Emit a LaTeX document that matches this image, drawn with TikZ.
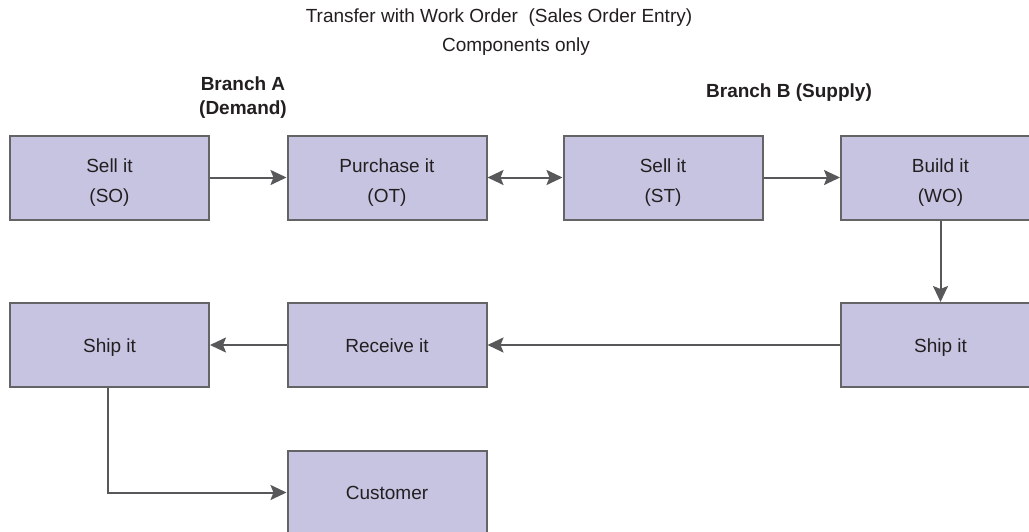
\documentclass[tikz,border=0pt]{standalone}
\usepackage{fontspec}
\setmainfont{Liberation Sans}
\usetikzlibrary{arrows.meta}
\definecolor{boxfill}{HTML}{C7C4E2}
\definecolor{boxline}{HTML}{646466}
\definecolor{arrowcol}{HTML}{58585A}
\definecolor{txt}{HTML}{231F20}
\newcommand{\twolines}[2]{\rule{0pt}{23pt}#1\\#2}
\begin{document}
\begin{tikzpicture}[x=1pt,y=-1pt,
  stepbox/.style={draw=boxline, fill=boxfill, line width=2pt, rectangle,
    minimum width=199pt, minimum height=84pt, inner sep=0pt, align=center,
    text=txt, font=\fontsize{19}{30}\selectfont},
  onebox/.style={stepbox, text height=14pt, text depth=0pt},
  label/.style={text=txt, align=center, inner sep=0pt, font=\fontsize{19}{29}\selectfont},
  blabel/.style={text=txt, align=center, inner sep=0pt, font=\fontsize{19}{24}\selectfont\bfseries},
  tip/.tip={Stealth[length=16pt,width=15pt,inset=3pt]},
  conn/.style={draw=arrowcol, line width=2pt, -tip},
  conn2/.style={draw=arrowcol, line width=2pt, tip-tip}
]
\useasboundingbox (0,0) rectangle (1029,531);
\fill[white] (0,0) rectangle (1029,531);

\node[label] (title) at (499,18) {Transfer with Work Order\ \ (Sales Order Entry)};
\node[label] (sub) at (516,47) {Components only};
\node[blabel] (bra) at (243,98) {Branch A\\(Demand)};
\node[blabel] (brb) at (789,93) {Branch B (Supply)};

\node[stepbox] (so) at (109.5,177.5) {\twolines{Sell it}{(SO)}};
\node[stepbox] (ot) at (387,177.5) {\twolines{Purchase it}{(OT)}};
\node[stepbox] (st) at (663,177.5) {\twolines{Sell it}{(ST)}};
\node[stepbox] (wo) at (940.5,177.5) {\twolines{Build it}{(WO)}};
\node[onebox] (shipr) at (940.5,345) {Ship it};
\node[onebox] (recv) at (387,345) {Receive it};
\node[onebox] (shipl) at (109.5,345) {Ship it};
\node[onebox] (cust) at (387,492.5) {Customer};

\draw[conn] (so) -- (ot);
\draw[conn2] (ot) -- (st);
\draw[conn] (st) -- (wo);
\draw[conn] (wo) -- (shipr);
\draw[conn] (shipr) -- (recv);
\draw[conn] (recv) -- (shipl);
\draw[conn] (shipl.south -| 108,0) |- (cust.west);
\end{tikzpicture}
\end{document}
